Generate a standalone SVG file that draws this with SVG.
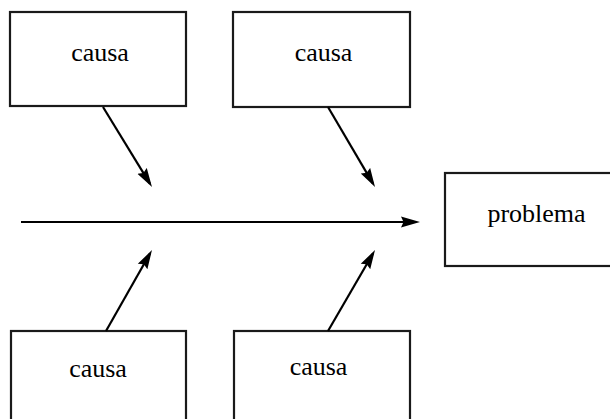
<svg xmlns="http://www.w3.org/2000/svg" width="610" height="419" viewBox="0 0 610 419">
  <style>
    .box { fill: #ffffff; stroke: #1a1a1a; stroke-width: 2.2; }
    .label { font-family: "Liberation Serif", "Times New Roman", serif; font-size: 26px; fill: #000000; text-anchor: middle; }
    .conn { stroke: #000000; stroke-width: 2.2; fill: none; marker-end: url(#arrow); }
  </style>
  <defs>
    <marker id="arrow" viewBox="0 0 19 12" refX="15" refY="6" markerWidth="19" markerHeight="12" markerUnits="userSpaceOnUse" orient="auto">
      <path d="M0,0.5 L19,6 L0,11.5 L2.5,6 z" fill="#000000"/>
    </marker>
  </defs>

  <rect width="610" height="419" fill="#ffffff"/>

  <g id="cause-top-left">
    <rect class="box" x="10" y="12" width="176" height="94"/>
    <text class="label" x="100" y="61">causa</text>
  </g>
  <g id="cause-top-right">
    <rect class="box" x="233" y="12" width="177" height="95"/>
    <text class="label" x="323.5" y="61">causa</text>
  </g>
  <g id="cause-bottom-left">
    <rect class="box" x="11" y="331" width="175" height="100"/>
    <text class="label" x="98" y="377">causa</text>
  </g>
  <g id="cause-bottom-right">
    <rect class="box" x="234" y="331" width="176" height="100"/>
    <text class="label" x="318.5" y="375">causa</text>
  </g>
  <g id="problem">
    <rect class="box" x="445" y="173" width="180" height="93"/>
    <text class="label" x="536.5" y="222">problema</text>
  </g>

  <g id="connectors">
    <line class="conn" x1="21" y1="222" x2="416" y2="222"/>
    <line class="conn" x1="103" y1="107" x2="149.9" y2="183.6"/>
    <line class="conn" x1="328" y1="107" x2="373" y2="183.6"/>
    <line class="conn" x1="106" y1="331" x2="150" y2="253.5"/>
    <line class="conn" x1="328" y1="331" x2="373" y2="253.5"/>
  </g>
</svg>
